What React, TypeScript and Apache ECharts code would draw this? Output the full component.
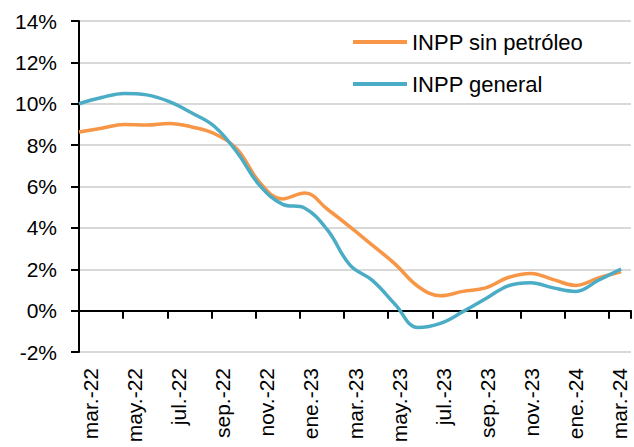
import React, { useEffect, useRef } from 'react';
import * as echarts from 'echarts';

const months = [
  'mar.-22', 'abr.-22', 'may.-22', 'jun.-22', 'jul.-22', 'ago.-22', 'sep.-22', 'oct.-22', 'nov.-22', 'dic.-22',
  'ene.-23', 'feb.-23', 'mar.-23', 'abr.-23', 'may.-23', 'jun.-23', 'jul.-23', 'ago.-23', 'sep.-23', 'oct.-23',
  'nov.-23', 'dic.-23', 'ene.-24', 'feb.-24', 'mar.-24',
];

const inppSinPetroleo = [
  8.63, 8.82, 9.0, 8.97, 9.05, 8.88, 8.55, 7.8, 6.2, 5.4,
  5.69, 4.9, 4.05, 3.15, 2.25, 1.18, 0.72, 0.93, 1.1, 1.6,
  1.8, 1.5, 1.22, 1.58, 1.88,
];

const inppGeneral = [
  10.0, 10.3, 10.5, 10.43, 10.1, 9.55, 8.9, 7.65, 6.05, 5.15,
  4.95, 3.9, 2.2, 1.45, 0.3, -0.82, -0.62, -0.05, 0.57, 1.2,
  1.35, 1.1, 0.93, 1.47, 2.01,
];

const yMin = -2;
const yMax = 14;
const yStep = 2;

const seriesNames = ['INPP sin petróleo', 'INPP general'];

export default function App() {
  const ref = useRef<HTMLDivElement>(null);

  useEffect(() => {
    if (!ref.current) return;
    const chart = echarts.init(ref.current, null, { renderer: 'svg' });
    const font = '"Liberation Sans", Arial, sans-serif';
    chart.setOption({
      animation: false,
      backgroundColor: '#ffffff',
      textStyle: { fontFamily: font },
      grid: { left: 79, right: 3, top: 21, bottom: 95, containLabel: false },
      legend: {
        orient: 'vertical',
        left: 348,
        top: 26,
        padding: 5,
        icon: 'rect',
        itemWidth: 54,
        itemHeight: 4,
        itemGap: 20,
        textStyle: { fontFamily: font, fontSize: 22, color: '#000', padding: [0, 0, 0, 0] },
        data: seriesNames,
      },
      xAxis: [
        {
          type: 'category',
          data: months,
          boundaryGap: true,
          position: 'bottom',
          axisLine: { show: false, onZero: false },
          axisTick: { show: false },
          splitLine: { show: false },
          axisLabel: {
            interval: 1,
            rotate: 90,
            margin: 16,
            fontFamily: font,
            fontSize: 21,
            color: '#000',
          },
        },
        {
          type: 'category',
          data: months,
          boundaryGap: true,
          position: 'bottom',
          axisLine: { show: true, onZero: true, lineStyle: { color: '#000', width: 2 } },
          axisTick: { show: true, interval: 1, length: 8, inside: false, lineStyle: { color: '#000', width: 2 } },
          axisLabel: { show: false },
          splitLine: { show: false },
        },
        {
          type: 'value',
          min: 0,
          max: 24.44,
          show: false,
          axisLine: { onZero: false },
          splitLine: { show: false },
        },
      ],
      yAxis: {
        type: 'value',
        min: yMin,
        max: yMax,
        interval: yStep,
        axisLine: { show: true, onZero: false, lineStyle: { color: '#000', width: 2 } },
        axisTick: { show: true, length: 8, lineStyle: { color: '#000', width: 2 } },
        splitLine: { show: true, lineStyle: { color: '#d9d9d9', width: 2 } },
        axisLabel: {
          formatter: '{value}%',
          margin: 22,
          fontFamily: font,
          fontSize: 21,
          color: '#000',
        },
      },
      series: [
        {
          name: seriesNames[0],
          type: 'line',
          xAxisIndex: 2,
          data: inppSinPetroleo.map((v, i) => [i, v]),
          symbol: 'none',
          smooth: 0.4,
          lineStyle: { color: '#F79646', width: 3.5 },
          itemStyle: { color: '#F79646' },
          z: 3,
        },
        {
          name: seriesNames[1],
          type: 'line',
          xAxisIndex: 2,
          data: inppGeneral.map((v, i) => [i, v]),
          symbol: 'none',
          smooth: 0.4,
          lineStyle: { color: '#4BACC6', width: 3.5 },
          itemStyle: { color: '#4BACC6' },
          z: 4,
        },
      ],
    });
    return () => chart.dispose();
  }, []);

  return (
    <div
      ref={ref}
      style={{ position: 'fixed', left: 0, top: 0, width: 634, height: 447 }}
    />
  );
}
